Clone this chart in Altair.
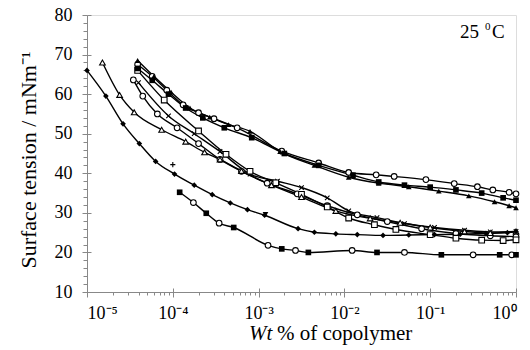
import altair as alt
import pandas as pd

# ---------------- data: log10(wt %) and surface tension (mN/m) ----------------
A_lx = [-4.41, -4.24, -4.07, -3.88, -3.70, -3.52, -3.25, -2.73, -2.30, -1.95, -1.63, -1.42, -1.05, -0.72, -0.45, -0.27, -0.08, 0.0]
A_y = [67.5, 64.5, 61.0, 57.3, 55.3, 53.8, 51.5, 45.6, 42.6, 40.2, 39.6, 39.2, 38.4, 37.4, 36.6, 35.8, 35.2, 34.8]

B_lx = [-4.41, -4.24, -4.05, -3.85, -3.65, -3.40, -3.08, -2.70, -2.30, -1.90, -1.60, -1.30, -1.00, -0.70, -0.40, -0.15, 0.0]
B_y = [66.5, 63.5, 60.0, 56.5, 54.0, 51.5, 49.0, 45.0, 42.0, 39.5, 37.8, 37.0, 36.5, 35.8, 35.0, 33.8, 33.2]

C_lx = [-4.41, -4.22, -4.02, -3.80, -3.57, -3.35, -3.10, -2.75, -2.35, -1.95, -1.60, -1.25, -0.90, -0.55, -0.25, -0.08, 0.0]
C_y = [68.5, 64.5, 60.5, 56.5, 54.2, 52.3, 50.6, 45.5, 42.0, 39.0, 37.5, 36.6, 35.5, 34.3, 32.8, 31.8, 31.3]

D_lx = [-4.40, -4.05, -3.75, -3.45, -3.10, -2.78, -2.50, -2.20, -1.95, -1.62, -1.30, -0.95, -0.60, -0.30, 0.0]
D_y = [62.9, 54.5, 50.0, 45.5, 39.8, 38.0, 36.4, 33.8, 30.5, 28.8, 27.3, 26.3, 25.6, 25.2, 25.3]

E_lx = [-4.46, -4.35, -4.18, -3.95, -3.70, -3.45, -3.20, -2.90, -2.55, -2.20, -1.85, -1.50, -1.10, -0.70, -0.30, 0.0]
E_y = [63.6, 59.5, 55.0, 51.5, 47.5, 43.5, 40.5, 37.5, 34.8, 31.8, 29.5, 27.8, 26.0, 24.8, 24.2, 24.0]

F_lx = [-4.41, -4.10, -3.70, -3.38, -3.10, -2.80, -2.50, -2.20, -1.95, -1.65, -1.40, -1.00, -0.70, -0.40, -0.15, 0.0]
F_y = [66.0, 58.5, 50.7, 44.8, 40.5, 37.6, 34.7, 31.5, 28.7, 27.0, 25.8, 24.5, 23.6, 23.1, 23.0, 23.2]

G_lx = [-4.82, -4.62, -4.45, -4.13, -3.85, -3.63, -3.45, -3.20, -2.85, -2.50, -2.10, -1.70, -1.35, -1.00, -0.60, -0.30, 0.0]
G_y = [68.0, 59.8, 55.4, 51.0, 48.0, 45.3, 43.5, 40.6, 37.0, 34.0, 30.5, 28.6, 27.5, 26.3, 25.3, 24.9, 25.3]

H_lx = [-5.0, -4.78, -4.58, -4.39, -4.20, -3.98, -3.75, -3.54, -3.33, -3.13, -2.93, -2.54, -2.35, -2.10, -1.85, -1.55, -1.25, -0.95, -0.65, -0.35, -0.10, 0.0]
H_y = [66.0, 59.5, 52.5, 47.5, 43.0, 39.8, 37.0, 34.6, 32.5, 30.8, 29.4, 26.0, 25.1, 24.7, 24.5, 24.3, 24.4, 24.5, 24.6, 24.8, 25.0, 25.3]

I_lx = [-3.92, -3.76, -3.61, -3.46, -3.29, -2.89, -2.73, -2.57, -2.42, -1.91, -1.62, -1.30, -0.87, -0.50, -0.19, -0.05, 0.0]
I_y = [35.2, 32.6, 29.9, 27.4, 26.3, 21.8, 20.9, 20.5, 20.0, 20.5, 20.0, 20.0, 19.4, 19.4, 19.4, 19.4, 19.4]

# stray markers near the diamond curve (no line)
J_lx = [-4.0, -2.92]
J_y = [42.2, 29.6]

# ---------------- styles ----------------
XPATH = "M-0.8,-0.8L0.8,0.8M-0.8,0.8L0.8,-0.8"
PLUS = "M-0.9,0L0.9,0M0,-0.9L0,0.9"
SERIES = {"A": (A_lx, A_y), "B": (B_lx, B_y), "C": (C_lx, C_y), "D": (D_lx, D_y),
          "E": (E_lx, E_y), "F": (F_lx, F_y), "G": (G_lx, G_y), "H": (H_lx, H_y),
          "I": (I_lx, I_y)}
STYLE = {"A": ("circle", False), "B": ("square", True), "C": ("triangle-up", True),
         "D": (XPATH, False), "E": ("circle", False), "F": ("square", False),
         "G": ("triangle-up", False), "H": ("diamond", True)}
J_STYLE = [(PLUS, False), ("triangle-down", True)]

rows = []
for name, (lx, yv) in SERIES.items():
    for i, (a, b) in enumerate(zip(lx, yv)):
        if name == "I":
            shp, fil = ("square", True) if i % 2 == 0 else ("circle", False)
        else:
            shp, fil = STYLE[name]
        rows.append({"series": name, "x": 10 ** a, "y": b, "shape": shp, "filled": fil})
df = pd.DataFrame(rows)
jrows = [{"x": 10 ** a, "y": b, "shape": s[0], "filled": s[1]} for a, b, s in zip(J_lx, J_y, J_STYLE)]
jdf = pd.DataFrame(jrows)

pts = pd.concat([df.drop(columns="series"), jdf], ignore_index=True)
open_pts = pts[~pts["filled"]]
fill_pts = pts[pts["filled"]]

FONT = "Liberation Serif"
xs = alt.Scale(type="log", domain=[1e-5, 1])
ys = alt.Scale(domain=[10, 80])
major_x = [1e-5, 1e-4, 1e-3, 1e-2, 1e-1, 1]
minor_x = [m * 10 ** e for e in range(-5, 0) for m in range(2, 10)]
major_y = list(range(10, 81, 10))
minor_y = [v for v in range(10, 81, 2) if v % 10]

label_expr = ("datum.value >= 0.99 ? '10⁰' : datum.value >= 0.099 ? '10⁻¹' : "
              "datum.value >= 0.0099 ? '10⁻²' : datum.value >= 0.00099 ? '10⁻³' : "
              "datum.value >= 0.000099 ? '10⁻⁴' : '10⁻⁵'")

lines = alt.Chart(df).mark_line(interpolate="monotone", color="black", strokeWidth=1.4).encode(
    x=alt.X("x:Q", scale=xs, axis=alt.Axis(values=major_x, labelExpr=label_expr, orient="bottom",
                                           tickSize=5, labelPadding=7, title=None, grid=False,
                                           labelFont=FONT, labelFontSize=18)),
    y=alt.Y("y:Q", scale=ys, axis=alt.Axis(values=major_y, orient="left", tickSize=5, labelPadding=10,
                                           title=None, grid=False, labelFont=FONT, labelFontSize=18)),
    detail="series:N",
)

open_layer = alt.Chart(open_pts).mark_point(fill="white", stroke="black", fillOpacity=1,
                                            strokeWidth=1.1, size=32, opacity=1).encode(
    x=alt.X("x:Q", scale=xs, axis=alt.Axis(values=minor_x, labels=False, tickSize=3, domain=False,
                                           orient="bottom", title=None, grid=False)),
    y=alt.Y("y:Q", scale=ys, axis=alt.Axis(values=minor_y, labels=False, tickSize=4, domain=False,
                                           orient="left", title=None, grid=False)),
    shape=alt.Shape("shape:N", scale=None),
)

fill_layer = alt.Chart(fill_pts).mark_point(filled=True, color="black", size=32, opacity=1).encode(
    x=alt.X("x:Q", scale=xs, axis=alt.Axis(values=major_x, labels=False, tickSize=4, domain=False,
                                           offset=-4, orient="bottom", title=None, grid=False)),
    y=alt.Y("y:Q", scale=ys, axis=alt.Axis(values=major_y, labels=False, tickSize=4, domain=False,
                                           offset=-4, orient="left", title=None, grid=False)),
    shape=alt.Shape("shape:N", scale=None),
)


def txt(s, x, y, size, align="left", style="normal", angle=0, baseline="alphabetic"):
    return alt.Chart(pd.DataFrame({"t": [s]})).mark_text(
        font=FONT, fontSize=size, fontStyle=style, align=align, baseline=baseline,
        angle=angle, color="black").encode(x=alt.value(x), y=alt.value(y), text="t:N")


temp25 = txt("25", 373, 23, 19)
temp0 = txt("0", 398, 15, 11)
tempC = txt("C", 405, 23, 19)
xt1 = txt("Wt", 162, 325, 21, style="italic")
xt2 = txt("% of copolymer", 190, 325, 21)
yt = txt("Surface tension / mNm⁻¹", -58, 145, 22, align="center", angle=270, baseline="middle")

chart = alt.layer(lines, open_layer, fill_layer, temp25, temp0, tempC, xt1, xt2, yt).resolve_axis(
    x="independent", y="independent"
).properties(
    width=429, height=277,
    autosize=alt.AutoSizeParams(type="none"),
    padding={"left": 87, "top": 15, "right": 14, "bottom": 58},
).configure_view(stroke="black", strokeWidth=1.2).configure_axis(
    domainColor="black", tickColor="black", labelColor="black", domainWidth=1.2, tickWidth=1,
    labelFont=FONT
).configure(background="white", font=FONT)

chart.save("out.html", embed_options={"renderer": "svg", "actions": False})
